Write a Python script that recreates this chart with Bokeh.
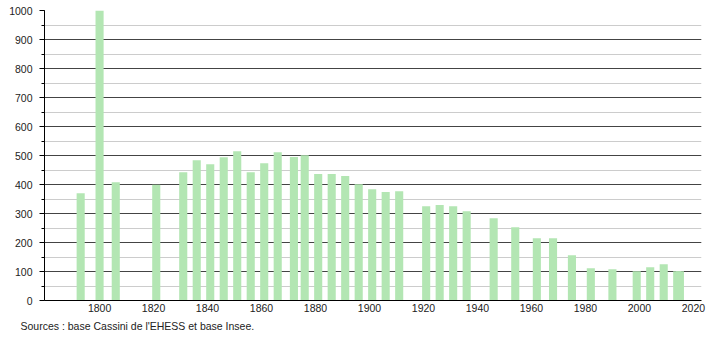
from bokeh.plotting import figure
from bokeh.models import Range1d, FixedTicker, SingleIntervalTicker, Title, ColumnDataSource
from bokeh.embed import file_html
from bokeh.resources import INLINE

years = [1793, 1800, 1806, 1821, 1831, 1836, 1841, 1846, 1851, 1856, 1861, 1866,
         1872, 1876, 1881, 1886, 1891, 1896, 1901, 1906, 1911, 1921, 1926, 1931,
         1936, 1946, 1954, 1962, 1968, 1975, 1982, 1990, 1999, 2004, 2009, 2014, 2015]
population = [370, 1000, 408, 399, 442, 484, 470, 494, 515, 442, 473, 511,
              495, 501, 436, 436, 429, 401, 384, 374, 377, 325, 329, 325,
              308, 284, 253, 215, 215, 156, 111, 108, 101, 115, 125, 101, 101]
x_tick_labels = [1800, 1820, 1840, 1860, 1880, 1900, 1920, 1940, 1960, 1980, 2000, 2020]
source_text = "Sources : base Cassini de l'EHESS et base Insee."

src = ColumnDataSource(dict(year=years, pop=population))

p = figure(width=710, height=340, output_backend="svg", toolbar_location=None,
           x_range=Range1d(1779.6, 2023.0), y_range=Range1d(0, 1000),
           min_border_left=44, min_border_right=9, min_border_top=10, min_border_bottom=40)
p.outline_line_color = None
p.background_fill_color = "white"
p.border_fill_color = "white"

p.vbar(x="year", top="pop", width=3, source=src, fill_color="#b3e6b3", line_color=None)

font = "Liberation Sans"
fs = "10.5px"

p.xaxis.ticker = FixedTicker(ticks=x_tick_labels)
p.xaxis.major_tick_out = 0
p.xaxis.major_tick_in = 0
p.xaxis.minor_tick_out = 0
p.xaxis.minor_tick_in = 0
p.xaxis.major_label_standoff = 3
p.xaxis.axis_line_color = "black"
p.xaxis.major_label_text_font = font
p.xaxis.major_label_text_font_size = fs
p.xaxis.major_label_text_color = "#222222"

p.yaxis.ticker = SingleIntervalTicker(interval=100, num_minor_ticks=2)
p.yaxis.major_tick_out = 5
p.yaxis.major_tick_in = 0
p.yaxis.minor_tick_out = 3
p.yaxis.minor_tick_in = 0
p.yaxis.major_label_standoff = 7
p.yaxis.axis_line_color = "black"
p.yaxis.major_label_text_font = font
p.yaxis.major_label_text_font_size = fs
p.yaxis.major_label_text_color = "#222222"

p.xgrid.grid_line_color = None
p.ygrid.grid_line_color = "#444444"
p.ygrid.minor_grid_line_color = "#cccccc"

t = Title(text=source_text, align="left", offset=-24, text_font=font,
          text_font_size=fs, text_font_style="normal", text_color="#222222", standoff=6)
p.add_layout(t, "below")

open("out.html", "w").write(file_html(p, INLINE))
